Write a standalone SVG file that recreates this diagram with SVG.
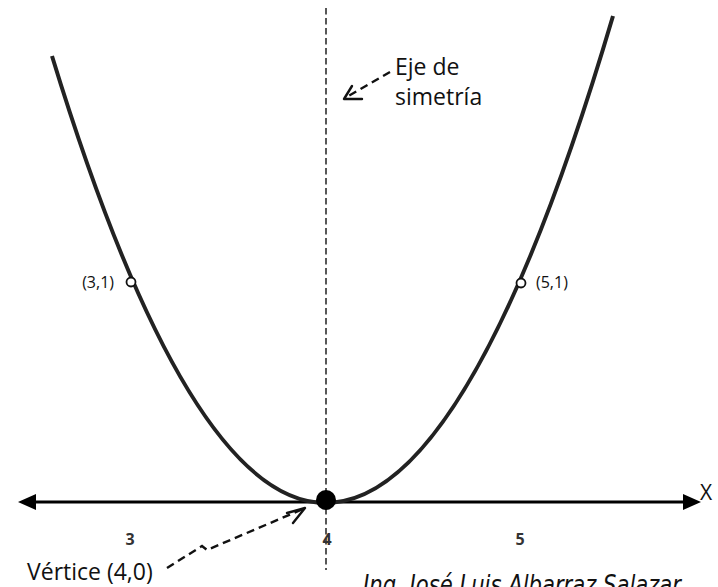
<svg xmlns="http://www.w3.org/2000/svg" width="718" height="587" viewBox="0 0 718 587">
<defs>
<style>
.lbl{font-family:"Open Sans","Liberation Sans",sans-serif;fill:#111}
.num{font-family:"Open Sans","Liberation Sans",sans-serif;font-weight:bold;font-size:16px;fill:#333;text-anchor:middle}
.dash{fill:none;stroke:#111;stroke-width:2.4;stroke-dasharray:8 5}
.head{fill:none;stroke:#111;stroke-width:2.4;stroke-linecap:round;stroke-linejoin:round}
.pt{fill:#fff;stroke:#111;stroke-width:1.8}
</style>
</defs>
<rect width="718" height="587" fill="#fff"/>
<g id="symmetry-axis">
<line x1="326" y1="8" x2="326" y2="570" stroke="#111" stroke-width="1.4" stroke-dasharray="6.5 3.5"/>
</g>
<g id="x-axis">
<line x1="30" y1="502" x2="690" y2="502" stroke="#000" stroke-width="3"/>
<polygon points="18,502 36,494 36,510" fill="#000"/>
<polygon points="701,502 683,494 683,510" fill="#000"/>
<text class="lbl" x="700" y="500" font-size="21">X</text>
<text class="num" x="130" y="545">3</text>
<text class="num" x="327" y="545">4</text>
<text class="num" x="520" y="545">5</text>
</g>
<g id="parabola">
<path d="M52,56 Q331.5,969.4 613,16" fill="none" stroke="#222" stroke-width="4"/>
</g>
<g id="vertex">
<circle cx="326" cy="500" r="10" fill="#000"/>
</g>
<g id="point-3-1">
<circle class="pt" cx="131" cy="282" r="4.5"/>
<text class="lbl" x="114" y="288" font-size="16" text-anchor="end">(3,1)</text>
</g>
<g id="point-5-1">
<circle class="pt" cx="521" cy="283" r="4.5"/>
<text class="lbl" x="536" y="288" font-size="16">(5,1)</text>
</g>
<g id="label-eje">
<text class="lbl" x="395" y="75" font-size="23">Eje de</text>
<text class="lbl" x="395" y="105" font-size="23">simetría</text>
</g>
<g id="label-vertice">
<text class="lbl" x="27" y="580" font-size="23">Vértice (4,0)</text>
</g>
<g id="connectors">
<path class="dash" d="M390,72 L345,98"/>
<path class="head" d="M352,86 L344,99 L362,99"/>
<path class="dash" d="M167,568 L202,546 L207,550 L303,509"/>
<path class="head" d="M287,513 L305,508 L293,523"/>
</g>
<g id="author">
<text x="363" y="594" font-family="'Liberation Sans Narrow','DejaVu Sans Condensed',sans-serif" font-style="italic" font-size="27" fill="#111" textLength="318" lengthAdjust="spacingAndGlyphs">Ing. José Luis Albarraz Salazar</text>
</g>
</svg>
